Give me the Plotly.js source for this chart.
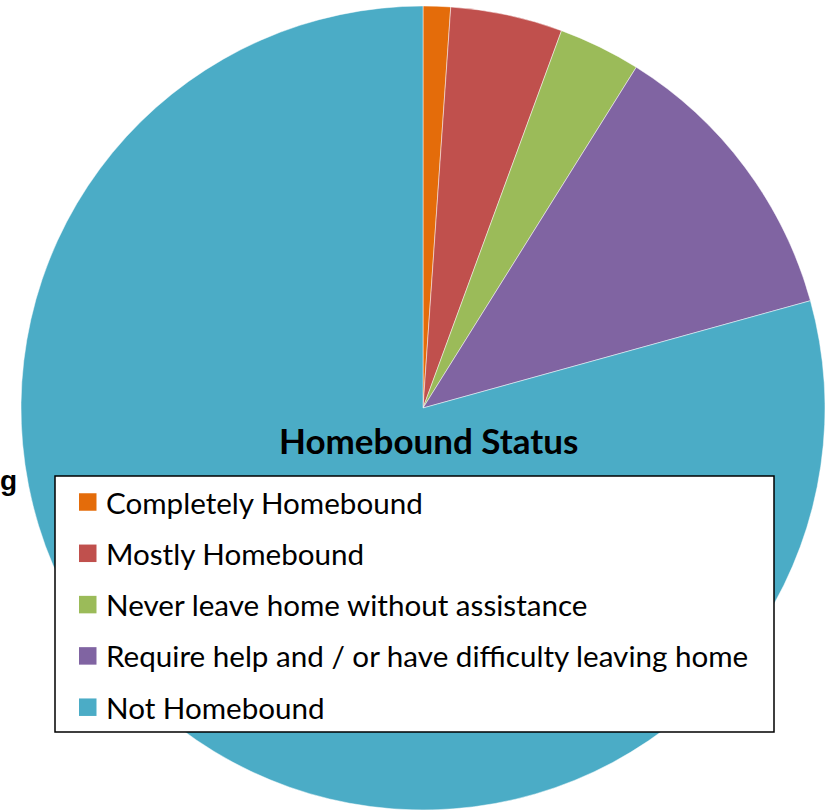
<!DOCTYPE html>
<html>
<head>
<meta charset="utf-8">
<script src="https://cdn.plot.ly/plotly-3.0.1.min.js"></script>
<style>html,body{margin:0;padding:0;background:#fff;}#chart{width:825px;height:812px;}</style>
</head>
<body>
<div id="chart"></div>
<script>
var categories = ["Completely Homebound", "Mostly Homebound", "Never leave home without assistance", "Require help and / or have difficulty leaving home", "Not Homebound"];
var shares = [1.1, 4.5, 3.3, 11.8, 79.3];
var sliceColors = ["#E46C0A", "#C0504D", "#9BBB59", "#8064A2", "#4BACC6"];
var chartTitle = "Homebound Status";

var W = 825, H = 812;
function px(x){ return x / W; }
function py(y){ return 1 - y / H; }

var cx = 423, cy = 408, r = 402;

var trace = {
  type: "pie",
  labels: categories,
  values: shares,
  sort: false,
  direction: "clockwise",
  rotation: 0,
  textinfo: "none",
  hoverinfo: "label+percent",
  marker: { colors: sliceColors, line: { color: "rgba(255,255,255,0.6)", width: 0.8 } },
  domain: { x: [px(cx - r), px(cx + r)], y: [py(cy + r), py(cy - r)] },
  showlegend: false
};

var shapes = [{
  type: "rect", xref: "paper", yref: "paper",
  x0: px(55), x1: px(774), y0: py(732), y1: py(476),
  fillcolor: "#ffffff", line: { color: "#000000", width: 1.5 }, layer: "above"
}];
var annotations = [];
var rowStart = 502, rowStep = 51.3, sw = 17.5;
categories.forEach(function(c, i){
  var yc = rowStart + rowStep * i;
  shapes.push({
    type: "rect", xref: "paper", yref: "paper",
    x0: px(79), x1: px(79 + sw), y0: py(yc + sw/2), y1: py(yc - sw/2),
    fillcolor: sliceColors[i], line: { width: 0 }, layer: "above"
  });
  annotations.push({
    xref: "paper", yref: "paper", x: px(104), y: py(yc), xanchor: "left", yanchor: "middle",
    text: c, showarrow: false, font: { family: "Lato, sans-serif", size: 29.6, color: "#000" }
  });
});
annotations.push({
  xref: "paper", yref: "paper", x: px(428), y: py(440), xanchor: "center", yanchor: "middle",
  text: "<b>" + chartTitle + "</b>", showarrow: false,
  font: { family: "Lato, sans-serif", size: 35, color: "#000" }
});
annotations.push({
  xref: "paper", yref: "paper", x: px(18), y: py(480), xanchor: "right", yanchor: "middle",
  text: "<b>g</b>", showarrow: false, borderpad: 0,
  font: { family: "Liberation Sans, Arial, sans-serif", size: 28, color: "#000" }
});

var layout = {
  width: W, height: H,
  margin: { l: 0, r: 0, t: 0, b: 0 },
  paper_bgcolor: "#ffffff",
  shapes: shapes,
  annotations: annotations,
  showlegend: false
};
Plotly.newPlot("chart", [trace], layout, { displayModeBar: false, staticPlot: true });
</script>
</body>
</html>
